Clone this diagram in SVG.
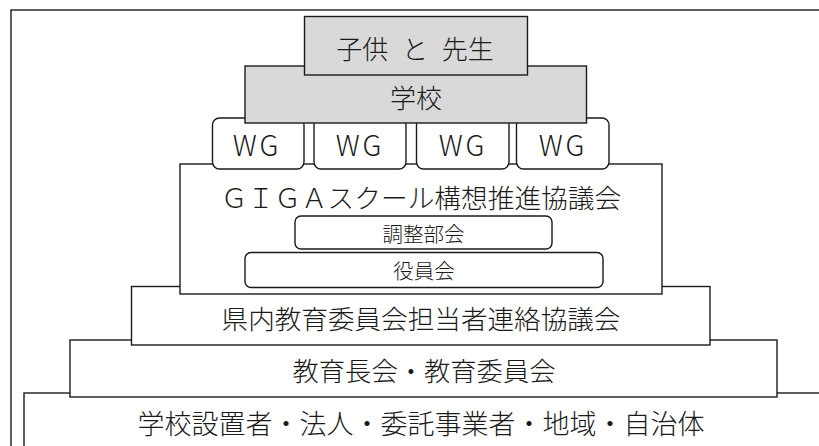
<svg xmlns="http://www.w3.org/2000/svg" width="819" height="446" viewBox="0 0 819 446">
<style>
.b{fill:#fff;stroke:#1a1a1a;stroke-width:1.4}
.g{fill:#d9d9d9;stroke:#1a1a1a;stroke-width:1.4}
.t{font-family:"Noto Sans CJK JP","Noto Sans",sans-serif;font-weight:300;fill:#1a1a1a;text-anchor:middle}
</style>
<rect width="819" height="446" fill="#fff"/>
<g id="frame"><rect class="b" x="11" y="10" width="830" height="460"/></g>
<g id="n_base"><rect class="b" x="24" y="393" width="820" height="80"/>
<text class="t" x="421" y="434" font-size="27">学校設置者・法人・委託事業者・地域・自治体</text></g>
<g id="n_kyoiku"><rect class="b" x="70" y="340" width="707" height="57"/>
<text class="t" x="424" y="381" font-size="26.3">教育長会・教育委員会</text></g>
<g id="n_kennai"><rect class="b" x="131.5" y="286.5" width="578.5" height="58.5"/>
<text class="t" x="421" y="328.5" font-size="26.6">県内教育委員会担当者連絡協議会</text></g>
<g id="n_giga"><rect class="b" x="180" y="164" width="482" height="130"/>
<text class="t" x="421" y="207.5" font-size="26.7">ＧＩＧＡスクール構想推進協議会</text></g>
<g id="n_chosei"><rect class="b" x="295" y="216" width="257" height="33" rx="6"/>
<text class="t" x="423.5" y="242" font-size="20.5">調整部会</text></g>
<g id="n_yakuin"><rect class="b" x="245" y="252.5" width="358" height="35" rx="6"/>
<text class="t" x="424" y="279" font-size="20.5">役員会</text></g>
<g id="n_wg1"><rect class="b" x="212.5" y="118" width="91.5" height="51" rx="7"/>
<text class="t" x="257" y="155.5" font-size="28" letter-spacing="3">WG</text></g>
<g id="n_wg2"><rect class="b" x="314" y="118" width="92" height="51" rx="7"/>
<text class="t" x="360" y="155.5" font-size="28" letter-spacing="3">WG</text></g>
<g id="n_wg3"><rect class="b" x="416.5" y="118" width="92.5" height="51" rx="7"/>
<text class="t" x="463" y="155.5" font-size="28" letter-spacing="3">WG</text></g>
<g id="n_wg4"><rect class="b" x="516.5" y="118" width="92.5" height="51" rx="7"/>
<text class="t" x="563" y="155.5" font-size="28" letter-spacing="3">WG</text></g>
<g id="n_gakko"><rect class="g" x="245" y="66" width="341.5" height="57"/>
<text class="t" x="416" y="107.5" font-size="26">学校</text></g>
<g id="n_kodomo"><rect class="g" x="304.5" y="16.5" width="223" height="58.5"/>
<text class="t" x="415" y="59" font-size="26" word-spacing="8" xml:space="preserve">子供 と 先生</text></g>
<g id="connectors"/>
</svg>
